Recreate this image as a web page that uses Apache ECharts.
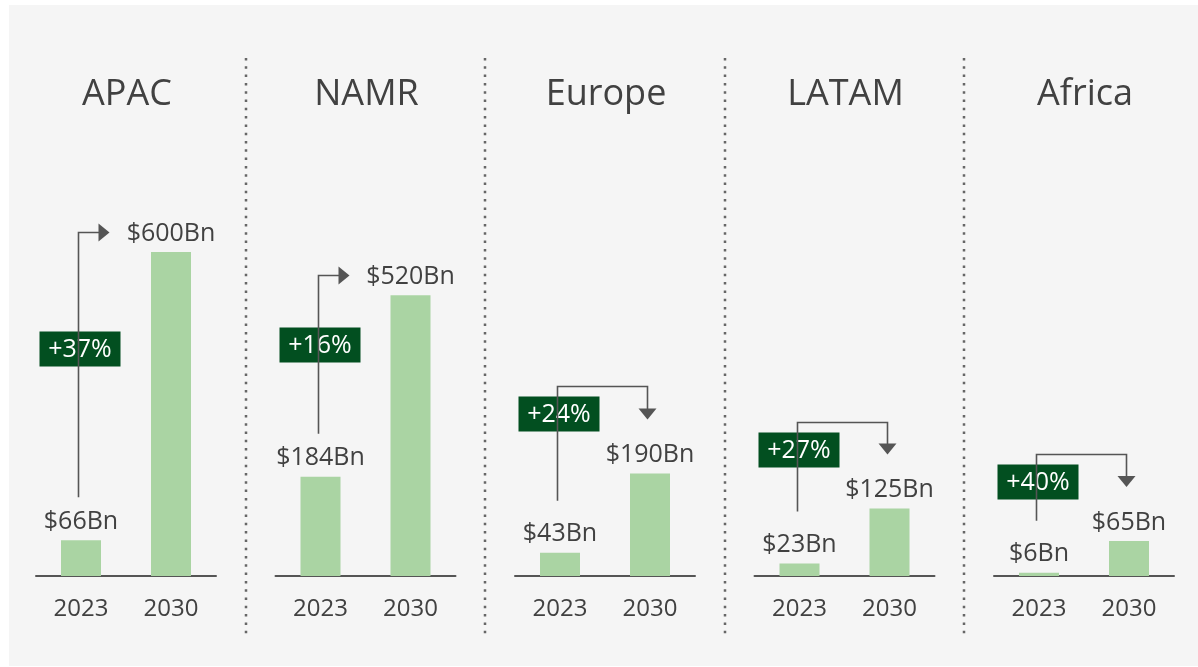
<!DOCTYPE html>
<html>
<head>
<meta charset="utf-8">
<script src="https://cdn.jsdelivr.net/npm/echarts@6/dist/echarts.min.js"></script>
<style>
  html, body { margin: 0; padding: 0; background: #ffffff; }
  #chart { width: 1198px; height: 667px; }
</style>
</head>
<body>
<div id="chart"></div>
<script>
// Market size by region, 2023 vs 2030, with CAGR badges.
const regions = ['APAC', 'NAMR', 'Europe', 'LATAM', 'Africa'];
const years = ['2023', '2030'];
const value2023 = [66, 184, 43, 23, 6];
const value2030 = [600, 520, 190, 125, 65];
const growth = ['+37%', '+16%', '+24%', '+27%', '+40%'];

// layout: elbow arrow going up-right for the big panels, bracket going down for the rest
const ARROW_KIND = ['up', 'up', 'down', 'down', 'down'];
const FONT = '"Open Sans", "Noto Sans", sans-serif';
const TEXT = '#414141';
const LINE = '#555555';
const BAR = '#aad4a3';
const BADGE = '#024f20';
const PANEL_LEFT = 36;
const PANEL_STEP = 239.5;
const PANEL_W = 180;

const chart = echarts.init(document.getElementById('chart'), null, { renderer: 'canvas' });

const fmt = (v) => '$' + v + 'Bn';

chart.setOption({
  animation: false,
  backgroundColor: '#ffffff',
  textStyle: { fontFamily: FONT },
  title: regions.map((r, i) => ({
    text: r,
    left: PANEL_LEFT + i * PANEL_STEP + PANEL_W / 2 - 4,
    top: 72,
    textAlign: 'center',
    textStyle: { color: TEXT, fontSize: 36, fontWeight: 'normal', fontFamily: FONT },
  })),
  grid: regions.map((r, i) => ({
    left: PANEL_LEFT + i * PANEL_STEP,
    width: PANEL_W,
    top: 144,
    bottom: 91,
  })),
  xAxis: regions.map((r, i) => ({
    type: 'category',
    gridIndex: i,
    data: years,
    axisLine: { lineStyle: { color: LINE, width: 2 } },
    axisTick: { show: false },
    axisLabel: { color: TEXT, fontSize: 24, margin: 21, fontFamily: FONT },
  })),
  yAxis: regions.map((r, i) => ({
    type: 'value',
    gridIndex: i,
    min: 0,
    max: 800,
    show: false,
  })),
  series: regions.map((r, i) => ({
    name: r,
    type: 'bar',
    xAxisIndex: i,
    yAxisIndex: i,
    barWidth: 40,
    data: [value2023[i], value2030[i]],
    itemStyle: { color: BAR },
    label: {
      show: true,
      position: 'top',
      distance: 6,
      formatter: (p) => fmt(p.value),
      color: TEXT,
      fontSize: 25,
      fontFamily: FONT,
    },
  })),
});

// ─── Annotations: separators, arrows, growth badges ─────────────
function badge(cx, cy, text) {
  return {
    type: 'group',
    z: 20,
    children: [
      { type: 'rect', shape: { x: cx - 40.5, y: cy - 17.5, width: 81, height: 35 }, style: { fill: BADGE } },
      {
        type: 'text', x: cx, y: cy + 1,
        style: { text, fill: '#ffffff', font: '25px ' + FONT, textAlign: 'center', textVerticalAlign: 'middle' },
      },
    ],
  };
}

const graphics = [
  { type: 'rect', z: -10, silent: true, shape: { x: 9, y: 5, width: 1189, height: 661 }, style: { fill: '#f5f5f5' } },
];

for (let i = 1; i < regions.length; i++) {
  const x = Math.round(PANEL_LEFT + i * PANEL_STEP - (PANEL_STEP - PANEL_W) / 2);
  graphics.push({
    type: 'line', z: 5, silent: true,
    shape: { x1: x, y1: 58, x2: x, y2: 634 },
    style: { stroke: '#666666', lineWidth: 2.5, lineDash: [2.5, 5.8] },
  });
}

regions.forEach((r, i) => {
  const p0 = chart.convertToPixel({ xAxisIndex: i, yAxisIndex: i }, [years[0], value2023[i]]);
  const p1 = chart.convertToPixel({ xAxisIndex: i, yAxisIndex: i }, [years[1], value2030[i]]);
  const x0 = Math.round(p0[0]) - 2.5;
  const x1 = Math.round(p1[0]) - 2.5;
  const stroke = { stroke: LINE, lineWidth: 1.6, fill: null };

  if (ARROW_KIND[i] === 'up') {
    const yStart = p0[1] - 43;
    const yH = Math.round(p1[1] - 20) + 0.5;
    graphics.push({ type: 'polyline', z: 10, shape: { points: [[x0, yStart], [x0, yH], [x0 + 21, yH]] }, style: stroke });
    graphics.push({ type: 'polygon', z: 10, shape: { points: [[x0 + 20, yH - 9], [x0 + 31, yH], [x0 + 20, yH + 9]] }, style: { fill: LINE } });
    graphics.push(badge(x0 + 1.5, yH + (yStart - yH) * 0.44, growth[i]));
  } else {
    const tip = p1[1] - 54;
    const yH = Math.round(tip - 33) + 0.5;
    const yStart = p0[1] - 52;
    graphics.push({ type: 'polyline', z: 10, shape: { points: [[x0, yStart], [x0, yH], [x1, yH], [x1, tip - 10]] }, style: stroke });
    graphics.push({ type: 'polygon', z: 10, shape: { points: [[x1 - 9, tip - 11], [x1 + 9, tip - 11], [x1, tip]] }, style: { fill: LINE } });
    graphics.push(badge(x0 + 1.5, yH + 10 + 17.5, growth[i]));
  }
});

chart.setOption({ graphic: graphics });
</script>
</body>
</html>
